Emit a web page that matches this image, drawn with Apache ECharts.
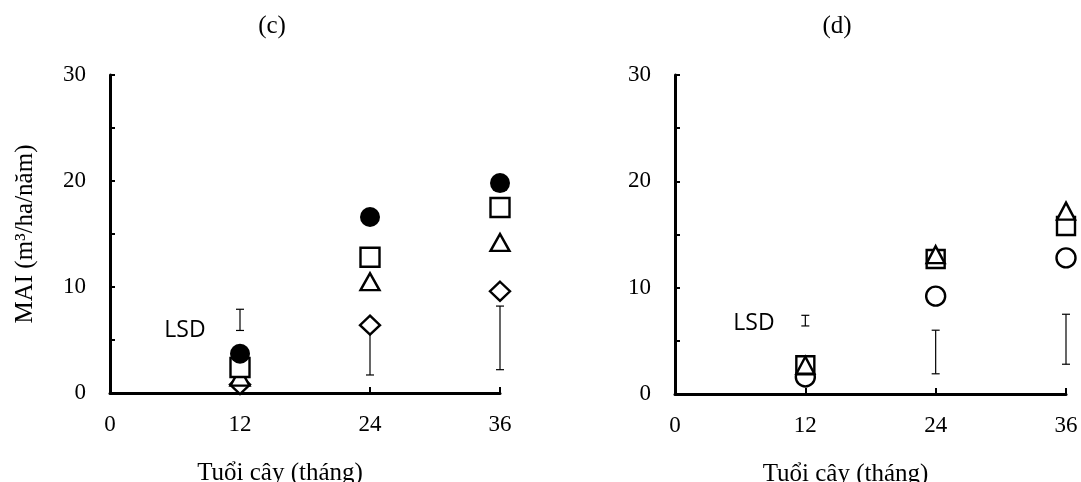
<!DOCTYPE html>
<html>
<head>
<meta charset="utf-8">
<title>MAI</title>
<script src="https://cdn.jsdelivr.net/npm/echarts@6/dist/echarts.min.js"></script>
<style>
  html, body { margin: 0; padding: 0; background: #fff; }
  #chart { width: 1081px; height: 482px; }
</style>
</head>
<body>
<div id="chart"></div>
<script>
// tuoi cay (thang)
var ages = [12, 24, 36];
var yTicks = [0, 10, 20, 30];

// (c)
var cCircle = [3.7, 16.6, 19.8];
var cSquare = [2.4, 12.8, 17.5];
var cTriangle = [1.5, 10.5, 14.2];
var cDiamond = [0.8, 6.4, 9.6];
var cLsdLow = [5.9, 1.7, 2.2];
var cLsdHigh = [7.9, 6.3, 8.2];

// (d)
var dCircle = [1.6, 9.2, 12.8];
var dSquare = [2.7, 12.7, 15.8];
var dTriangle = [2.7, 13.1, 17.2];
var dLsdLow = [6.4, 1.9, 2.8];
var dLsdHigh = [7.4, 6.0, 7.5];

var serif = '"Times New Roman", "Liberation Serif", serif';
var myChart = echarts.init(document.getElementById('chart'));

function pts(ys) {
    return ages.map(function (a, i) { return [a, ys[i]]; });
}
function bars(lo, hi) {
    return ages.map(function (a, i) { return [a, lo[i], hi[i]]; });
}

function xAx(idx) {
    return {
        type: 'value', gridIndex: idx, min: 0, max: 36, interval: 12,
        name: 'Tuổi cây (tháng)', nameLocation: 'middle', nameGap: 68,
        nameTextStyle: { fontFamily: serif, fontSize: 25, color: '#000', padding: [0, 50, 0, 0] },
        axisLine: { lineStyle: { color: '#000', width: 3 } },
        axisTick: { inside: true, length: 6, lineStyle: { color: '#000', width: 2 } },
        axisLabel: { fontFamily: serif, fontSize: 23, color: '#000', margin: 20 },
        splitLine: { show: false }
    };
}
function yAx(idx, name) {
    return {
        type: 'value', gridIndex: idx, min: 0, max: 30, interval: 5,
        name: name, nameLocation: 'middle', nameGap: 72, nameRotate: 90,
        nameTextStyle: { fontFamily: serif, fontSize: 25, color: '#000' },
        axisLine: { show: true, lineStyle: { color: '#000', width: 3 } },
        axisTick: { show: true, inside: true, length: 5, lineStyle: { color: '#000', width: 2 } },
        axisLabel: {
            fontFamily: serif, fontSize: 23, color: '#000', margin: 24,
            formatter: function (v) { return yTicks.indexOf(v) >= 0 ? v : ''; }
        },
        splitLine: { show: false }
    };
}

function marker(idx, ys, sym, size, filled) {
    return {
        type: 'scatter', xAxisIndex: idx, yAxisIndex: idx,
        symbol: sym, symbolSize: size, data: pts(ys),
        itemStyle: filled
            ? { color: '#000', opacity: 1 }
            : { color: '#fff', borderColor: '#000', borderWidth: 2.4, opacity: 1 },
        z: 3
    };
}

function lsd(idx, lo, hi) {
    return {
        type: 'custom', xAxisIndex: idx, yAxisIndex: idx, z: 2,
        data: bars(lo, hi),
        renderItem: function (params, api) {
            var top = api.coord([api.value(0), api.value(2)]);
            var bot = api.coord([api.value(0), api.value(1)]);
            var w = 4;
            var st = { stroke: '#000', lineWidth: 1.2 };
            return {
                type: 'group',
                children: [
                    { type: 'line', shape: { x1: top[0], y1: top[1], x2: bot[0], y2: bot[1] }, style: st },
                    { type: 'line', shape: { x1: top[0] - w, y1: top[1], x2: top[0] + w, y2: top[1] }, style: st },
                    { type: 'line', shape: { x1: bot[0] - w, y1: bot[1], x2: bot[0] + w, y2: bot[1] }, style: st }
                ]
            };
        }
    };
}

var option = {
    backgroundColor: '#fff',
    animation: false,
    title: [
        { text: '(c)', left: 267, top: 9, textAlign: 'center',
          textStyle: { fontFamily: serif, fontSize: 25, fontWeight: 'normal', color: '#000' } },
        { text: '(d)', left: 832, top: 9, textAlign: 'center',
          textStyle: { fontFamily: serif, fontSize: 25, fontWeight: 'normal', color: '#000' } }
    ],
    grid: [
        { left: 110, top: 75, width: 390, height: 318, outerBoundsMode: 'none' },
        { left: 675, top: 75, width: 391, height: 319, outerBoundsMode: 'none' }
    ],
    xAxis: [xAx(0), xAx(1)],
    yAxis: [yAx(0, 'MAI (m³/ha/năm)'), yAx(1, '')],
    graphic: [
        { type: 'text', x: 185, y: 330, style: { text: 'LSD', align: 'center', verticalAlign: 'middle',
          font: '23px "Open Sans", "Noto Sans", sans-serif', fill: '#000' } },
        { type: 'text', x: 754, y: 323, style: { text: 'LSD', align: 'center', verticalAlign: 'middle',
          font: '23px "Open Sans", "Noto Sans", sans-serif', fill: '#000' } }
    ],
    series: [
        lsd(0, cLsdLow, cLsdHigh),
        marker(0, cDiamond, 'diamond', [20, 19], false),
        marker(0, cTriangle, 'triangle', [19, 17], false),
        marker(0, cSquare, 'rect', 19, false),
        marker(0, cCircle, 'circle', 20, true),
        lsd(1, dLsdLow, dLsdHigh),
        marker(1, dCircle, 'circle', 19, false),
        marker(1, dSquare, 'rect', 18, false),
        marker(1, dTriangle, 'triangle', [18, 17], false)
    ]
};

myChart.setOption(option);

window.addEventListener('resize', function () {
    myChart.resize();
});
</script>
</body>
</html>
